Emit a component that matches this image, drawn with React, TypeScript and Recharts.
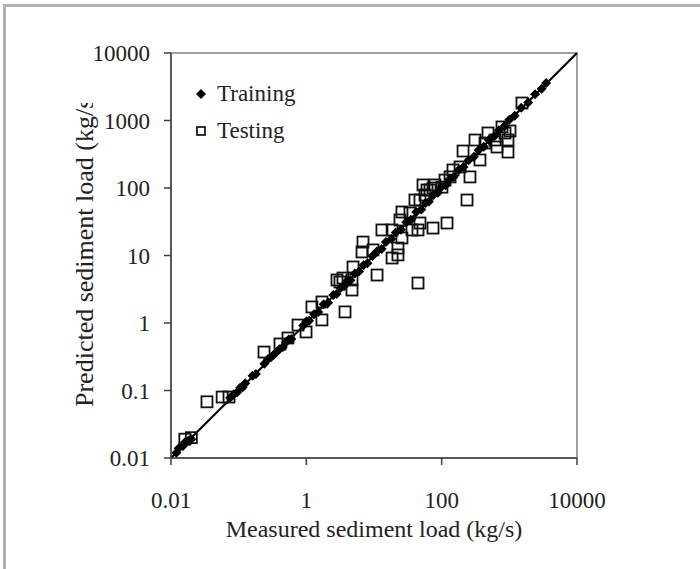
import React from 'react';
import {
  ScatterChart,
  Scatter,
  XAxis,
  YAxis,
  ReferenceLine,
  ReferenceArea,
} from 'recharts';

// measured vs predicted, kg/s
const TRAIN_X = [
  0.012, 0.013, 0.015, 0.016, 0.018, 0.02, 0.075, 0.085, 0.095, 0.105, 0.115, 0.125,
  0.16, 0.18, 0.24, 0.27, 0.3, 0.33, 0.36, 0.4, 0.45, 0.5, 0.55, 0.6, 0.9, 1.0, 1.1,
  1.3, 1.5, 1.8, 2.1, 2.5, 2.8, 3.2, 3.6, 4.0, 4.5, 5.2, 6.0, 7.0, 8.0, 9.5, 11, 13,
  15, 18, 21, 25, 30, 35, 42, 50, 58, 65, 75, 88, 100, 115, 130, 150, 180, 210, 250,
  300, 350, 420, 500, 600, 700, 850, 1000, 1200, 1500, 1900, 2400, 3000, 3500,
];
const TRAIN_Y = [
  0.012, 0.014, 0.015, 0.017, 0.018, 0.019, 0.078, 0.088, 0.094, 0.11, 0.112, 0.128,
  0.165, 0.175, 0.25, 0.29, 0.31, 0.34, 0.37, 0.41, 0.44, 0.52, 0.57, 0.58, 0.92, 1.05,
  1.08, 1.35, 1.45, 1.9, 2.0, 2.6, 2.7, 3.3, 3.5, 4.2, 4.3, 5.4, 5.8, 7.2, 7.7, 9.8,
  11.5, 12.5, 15.8, 17.5, 22, 24, 31, 34, 44, 48, 60, 63, 78, 85, 104, 110, 135, 145,
  186, 205, 258, 290, 362, 410, 515, 585, 720, 830, 1030, 1180, 1540, 1850, 2450, 2950,
  3600,
];

const TEST_X = [
  0.016, 0.02, 0.034, 0.057, 0.072, 0.237, 0.408, 0.536, 0.754, 0.99, 1.21, 1.7, 1.7,
  3.73, 3.14, 4.73, 4.73, 4.9, 2.84, 3.48, 6.65, 6.88, 9.66, 11.1, 13.1, 18.5, 22.6,
  22.6, 25.9, 18.5, 24.2, 25.9, 34, 36.4, 44.7, 47.8, 44.7, 74.5, 120, 40.3, 56.7, 53,
  67.2, 79.6, 101, 133, 237, 262, 368, 207, 311, 437, 484, 614, 657, 779, 863, 1023,
  955, 955, 1538, 60.7, 74.5, 112, 147, 187, 47.8,
];
const TEST_Y = [
  0.019, 0.02, 0.068, 0.08, 0.08, 0.371, 0.489, 0.6, 0.933, 0.737, 1.73, 2.05, 1.11,
  1.46, 4.05, 3.08, 4.34, 6.76, 4.34, 4.64, 11.3, 15.8, 12.1, 5.14, 23.9, 9.18, 10.2,
  12.9, 18.2, 23.9, 33.6, 44.1, 42.6, 23.9, 23.9, 30.3, 3.91, 25.5, 30.3, 66.4, 78.8,
  111, 93.4, 111, 103, 146, 66.4, 146, 260, 353, 514, 464, 653, 514, 405, 802, 653, 699,
  514, 341, 1816, 93.4, 100, 131, 185, 205, 66.4,
];

const X_TICKS = [0.01, 1, 100, 10000];
const Y_TICKS = [0.01, 0.1, 1, 10, 100, 1000, 10000];

const training = TRAIN_X.map((x, i) => ({ x, y: TRAIN_Y[i] }));
const testing = TEST_X.map((x, i) => ({ x, y: TEST_Y[i] }));

const FONT = '"Liberation Serif", "Times New Roman", serif';
const AXIS = '#404040';

const Diamond = ({ cx, cy }: any) => (
  <path d={`M${cx},${cy - 5}L${cx + 5},${cy}L${cx},${cy + 5}L${cx - 5},${cy}Z`} fill="#000" />
);

const Square = ({ cx, cy }: any) => (
  <rect x={cx - 5.5} y={cy - 5.5} width={11} height={11} fill="none" stroke="#111" strokeWidth={1.8} />
);

const XTitle = ({ viewBox }: any) => (
  <text
    x={viewBox.x + viewBox.width / 2}
    y={viewBox.y + 79}
    textAnchor="middle"
    fontFamily={FONT}
    fontSize={24}
    fill="#222"
  >
    Measured sediment load (kg/s)
  </text>
);

const YTitle = () => (
  <g>
    <defs>
      <clipPath id="ytitle-clip">
        <rect x={0} y={103} width={171} height={400} />
      </clipPath>
    </defs>
    <g clipPath="url(#ytitle-clip)">
      <text
        x={93}
        y={407}
        transform="rotate(-90, 93, 407)"
        textAnchor="start"
        fontFamily={FONT}
        fontSize={26}
        fill="#222"
      >
        Predicted sediment load (kg/s)
      </text>
    </g>
  </g>
);

const LegendBox = () => (
  <div
    style={{
      position: 'absolute',
      left: 195,
      top: 75,
      fontFamily: FONT,
      fontSize: 23,
      color: '#222',
      lineHeight: '37px',
    }}
  >
    <div style={{ display: 'flex', alignItems: 'center' }}>
      <svg width={12} height={12} style={{ marginRight: 10 }}>
        <path d="M6,1L11,6L6,11L1,6Z" fill="#000" />
      </svg>
      Training
    </div>
    <div style={{ display: 'flex', alignItems: 'center' }}>
      <svg width={12} height={12} style={{ marginRight: 10 }}>
        <rect x={2} y={2} width={8} height={8} fill="none" stroke="#000" strokeWidth={1.6} />
      </svg>
      Testing
    </div>
  </div>
);

export default function App() {
  return (
    <div style={{ position: 'absolute', left: 0, top: 0, width: 700, height: 569, background: '#fff' }}>
      <div
        style={{
          position: 'absolute',
          left: 3,
          top: 4,
          width: 700,
          height: 562,
          borderLeft: '3px solid #b0b0b0',
          borderTop: '3px solid #b0b0b0',
          borderBottom: '3px solid #b0b0b0',
        }}
      />
      <ScatterChart
        width={700}
        height={569}
        margin={{ top: 53, right: 123, left: 0, bottom: 0 }}
        style={{ position: 'absolute', left: 0, top: 0 }}
      >
        <ReferenceArea
          x1={0.01}
          x2={10000}
          y1={0.01}
          y2={10000}
          fill="none"
          stroke="#808080"
          strokeWidth={1.5}
          ifOverflow="visible"
        />
        <XAxis
          dataKey="x"
          type="number"
          scale="log"
          domain={[0.01, 10000]}
          ticks={X_TICKS}
          allowDataOverflow
          height={111}
          tickSize={7}
          tickMargin={27}
          tickFormatter={(v: number) => String(v)}
          axisLine={{ stroke: AXIS, strokeWidth: 1.5 }}
          tickLine={{ stroke: AXIS, strokeWidth: 1.5 }}
          tick={{ fontFamily: FONT, fontSize: 23, fill: '#222' }}
          label={<XTitle />}
        />
        <YAxis
          dataKey="y"
          type="number"
          scale="log"
          domain={[0.01, 10000]}
          ticks={Y_TICKS}
          allowDataOverflow
          width={171}
          tickSize={7}
          tickMargin={14}
          tickFormatter={(v: number) => String(v)}
          axisLine={{ stroke: AXIS, strokeWidth: 1.5 }}
          tickLine={{ stroke: AXIS, strokeWidth: 1.5 }}
          tick={{ fontFamily: FONT, fontSize: 23, fill: '#222' }}
          label={<YTitle />}
        />
        <Scatter name="Testing" data={testing} shape={<Square />} isAnimationActive={false} />
        <Scatter name="Training" data={training} shape={<Diamond />} isAnimationActive={false} />
        <ReferenceLine
          segment={[
            { x: 0.01, y: 0.01 },
            { x: 10000, y: 10000 },
          ]}
          stroke="#000"
          strokeWidth={2.2}
        />
      </ScatterChart>
      <LegendBox />
    </div>
  );
}
